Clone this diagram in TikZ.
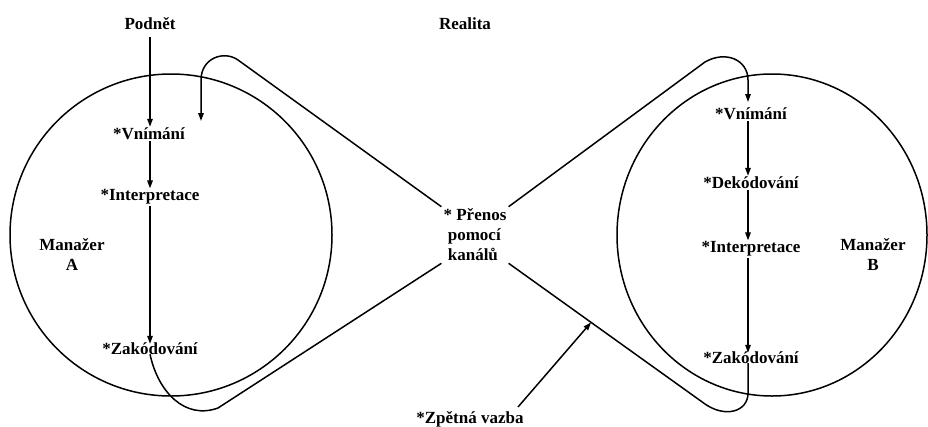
\documentclass[tikz,border=0pt]{standalone}
\usepackage{fontspec}
\setmainfont{Liberation Serif}
\usetikzlibrary{arrows.meta}
\begin{document}
\begin{tikzpicture}[x=1pt,y=-1pt,
  lbl/.style={font=\bfseries\fontsize{17}{20}\selectfont, inner sep=1pt},
  ln/.style={line width=1.5pt},
  arr/.style={ln,-{Triangle[length=8pt,width=5.5pt]}}]
\useasboundingbox (0,0) rectangle (928,426);
% circles
\draw[ln] (171,235) circle[radius=161];
\draw[ln] (772,235) ellipse[x radius=155,y radius=161];
% texts
\node[lbl] (podnet) at (150,24) {Podnět};
\node[lbl] (realita) at (465,24) {Realita};
\node[lbl] (vA) at (149,134) {*Vnímání};
\node[lbl] (iA) at (150,197) {*Interpretace};
\node[lbl] (zA) at (150,349) {*Zakódování};
\node[lbl,align=center] (manA) at (72,255) {Manažer\\A};
\node[lbl] (vB) at (751,114) {*Vnímání};
\node[lbl] (dB) at (751,183) {*Dekódování};
\node[lbl] (iB) at (751,249) {*Interpretace};
\node[lbl] (zB) at (751,358) {*Zakódování};
\node[lbl,align=center] (manB) at (873,255) {Manažer\\B};
\node[lbl,align=left,inner sep=2pt] (prenos) at (475,235) {* Přenos\\\ pomocí\\\ kanálů};
\node[lbl] (zpetna) at (470,419) {*Zpětná vazba};
% coordinates
\coordinate (inA) at (201,121);
\coordinate (inB) at (748,102);
% vertical arrows
\draw[arr] (podnet.south) ++(0,6) -- ([xshift=1pt]vA.north);
\draw[arr] ([xshift=1pt]vA.south) -- (iA.north);
\draw[arr] (iA.south) -- ([yshift=-2pt]zA.north);
\draw[arr] ([xshift=-3pt]vB.south) -- ([xshift=-3pt]dB.north);
\draw[arr] ([xshift=-3pt]dB.south) -- ([xshift=-3pt]iB.north);
\draw[arr] ([xshift=-3pt]iB.south) -- ([xshift=-3pt,yshift=-2pt]zB.north);
% channel loops
\draw[arr] (prenos.north west) -- (238,60) .. controls (224,50) and (201,58) .. (201,80) -- (inA);
\draw[arr] (prenos.north east) -- (705,62) .. controls (726,50) and (748,60) .. (748,80) -- (inB);
\draw[ln] ([yshift=2pt]zA.south) .. controls (158,392) and (185,420) .. (218,408) -- (prenos.south west);
\draw[ln] (prenos.south east) -- coordinate[pos=0.42] (fb) (705,404) .. controls (725,418) and (748,412) .. (748,393) -- ([xshift=-3pt,yshift=2pt]zB.south);
% feedback
\draw[arr] (518,407) -- (fb);
\end{tikzpicture}
\end{document}
